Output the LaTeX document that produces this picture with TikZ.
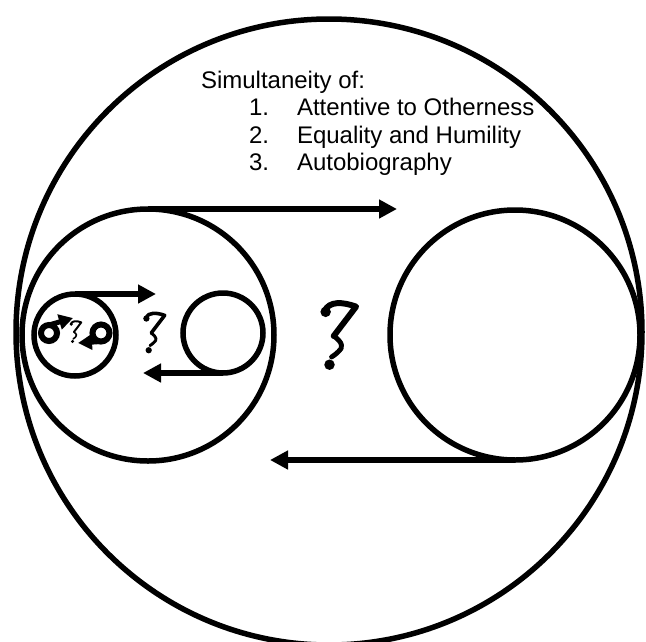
\documentclass[tikz,border=0pt]{standalone}
\usepackage{fontspec}
\setmainfont{Liberation Sans}
\usetikzlibrary{arrows.meta}
\tikzset{
  ring/.style={circle, draw, line width=5.5pt, inner sep=0pt, outer sep=0pt, minimum size=#1},
  minring/.style={circle, draw, line width=6pt, inner sep=0pt, outer sep=0pt, minimum size=#1},
  bigarrow/.style={line width=6pt, -{Triangle[length=18pt,width=18pt]}},
  miniarrow/.style={line width=5pt, -{Triangle[length=14pt,width=15pt]}},
  lbl/.style={anchor=base west, inner sep=0pt, outer sep=0pt, font=\fontsize{24}{27.6}\selectfont},
}
% old-style question mark glyph: #1 x, #2 y, #3 height
\newcommand{\oldqmark}[3]{%
  \begin{scope}[shift={(#1,#2)}, scale=#3]
    \fill (-0.205,-0.345) circle (0.075);
    \draw[line width=#3*0.085pt, line cap=round, line join=round]
      (-0.22,-0.36) .. controls (-0.15,-0.50) and (0.03,-0.49) .. (0.23,-0.42)
      -- (-0.09,0.0);
    \draw[line width=#3*0.07pt, line cap=round, line join=round]
      (-0.09,0.0) .. controls (0.04,0.09) and (0.05,0.17) .. (-0.02,0.22)
      .. controls (-0.06,0.26) and (-0.09,0.28) .. (-0.12,0.30);
    \fill (-0.15,0.41) circle (0.075);
  \end{scope}}
\begin{document}
\begin{tikzpicture}[x=1pt, y=-1pt]
\useasboundingbox (0,0) rectangle (646,641);
% circles
\node[ring=626pt] (outer) at (329,332) {};
\node[ring=252pt] (L) at (148,335) {};
\node[ring=250pt] (R) at (515,335) {};
\node[ring=80pt] (S) at (223,333) {};
\node[ring=82pt] (T) at (75,335) {};
\node[minring=16pt] (M1) at (49,333) {};
\node[minring=17pt] (M2) at (101,333) {};
% arrow tips
\coordinate (tipA) at (397,209);
\coordinate (tipB) at (270,460);
\coordinate (tipC) at (156,294);
\coordinate (tipD) at (143,373);
\coordinate (tipE) at (73,318);
\coordinate (tipF) at (78,343);
% arrows
\draw[bigarrow] (L.north) -- (tipA);
\draw[bigarrow] (R.south) -- (tipB);
\draw[bigarrow] (T.north) -- (tipC);
\draw[bigarrow] (S.south) -- (tipD);
\draw[miniarrow] (M1.north) -- (tipE);
\draw[miniarrow] (M2.south) -- (tipF);
% question marks
\oldqmark{340}{336}{70}
\oldqmark{155}{333}{42}
\oldqmark{76}{332}{23}
% text
\node[lbl] (title) at (201,88) {Simultaneity of:};
\node[lbl] (n1) at (249,115.5) {1.};
\node[lbl] (t1) at (297,115.5) {Attentive to Otherness};
\node[lbl] (n2) at (249,143) {2.};
\node[lbl] (t2) at (297,143) {Equality and Humility};
\node[lbl] (n3) at (249,170.5) {3.};
\node[lbl] (t3) at (297,170.5) {Autobiography};
\end{tikzpicture}
\end{document}
